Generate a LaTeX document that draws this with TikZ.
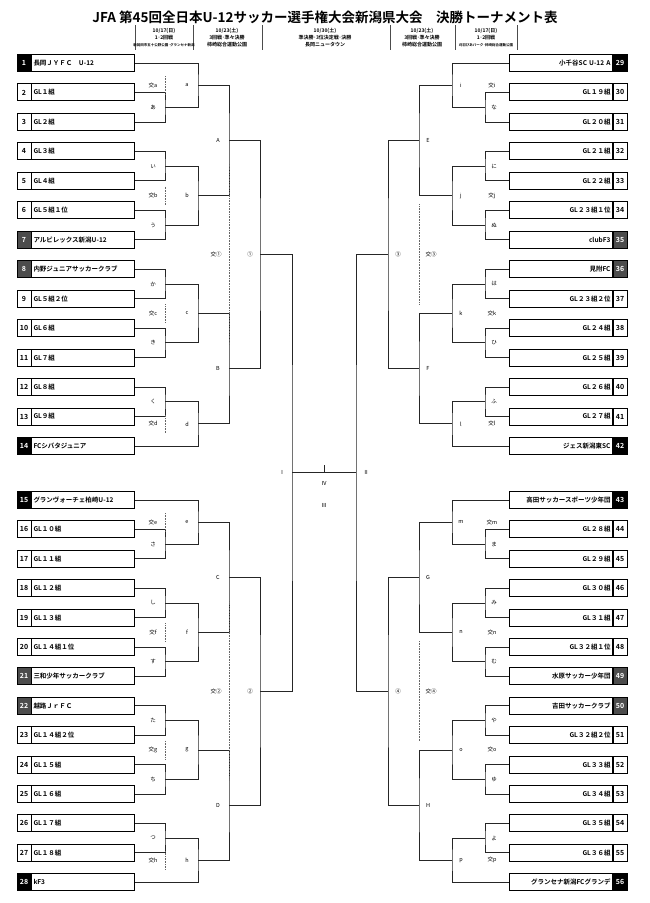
\documentclass[tikz,border=0pt]{standalone}
\usepackage{fontspec}
\setmainfont{Noto Sans CJK JP}[BoldFont={Noto Sans CJK JP Bold}]
\usetikzlibrary{calc}

\tikzset{
    bline/.style={line width=0.8pt, black!85},
    xline/.style={densely dotted, line width=0.6pt, black!60},
    namebox/.style={draw, line width=1pt, minimum width=103pt, minimum height=17pt, inner sep=2pt, font=\fontsize{6.5}{7}\selectfont\bfseries},
    numcell/.style={draw, line width=1pt, minimum width=14pt, minimum height=17pt, inner sep=0pt, font=\fontsize{7}{8}\selectfont\bfseries},
    rlabel/.style={font=\fontsize{5.5}{6}\selectfont, inner sep=0pt},
    headtxt/.style={font=\fontsize{5}{6}\selectfont\bfseries, align=center, inner sep=0pt}
}

% match: name, top, bottom, x of vertical, label, label shift
\newcommand\mt[6]{%
    \coordinate (#1tmp) at ($(#2)!.5!(#3)$);
    \coordinate (#1) at (#4,0 |- #1tmp);
    \draw[bline] (#2) -| (#1) |- (#3);
    \node[rlabel] at ($(#1)+(#6,0)$) {#5};}
% cross label with dotted line
\newcommand\xl[5]{%
    \node[rlabel] at ($(#1)+(#3,0)$) {#2};
    \draw[xline] ($(#1)+(#4,-#5)$) -- ($(#1)+(#4,#5)$);}

\begin{document}
\begin{tikzpicture}[x=1pt, y=-1pt]
    \useasboundingbox (0,0) rectangle (650,903);

    % Title and schedule
    \node[font=\fontsize{13.5}{14}\selectfont\bfseries] (title) at (325,17) {JFA 第45回全日本U-12サッカー選手権大会新潟県大会　決勝トーナメント表};
    \foreach \sx in {135,193,262,390,455,517}
        \draw[black!70, line width=0.6pt] (\sx,25) -- (\sx,50);
    \node[headtxt] (h1) at (164,38) {10/17(日)\\[1pt]1･2回戦\\[1pt]{\fontsize{3.5}{4}\selectfont 新発田市五十公野公園･グランセナ新潟}};
    \node[headtxt] (h2) at (227,38) {10/23(土)\\[1pt]3回戦･準々決勝\\[1pt]柿崎総合運動公園};
    \node[headtxt] (h3) at (325,38) {10/30(土)\\[1pt]準決勝･3位決定戦･決勝\\[1pt]長岡ニュータウン};
    \node[headtxt] (h4) at (422,38) {10/23(土)\\[1pt]3回戦･準々決勝\\[1pt]柿崎総合運動公園};
    \node[headtxt] (h5) at (486,38) {10/17(日)\\[1pt]1･2回戦\\[1pt]{\fontsize{3.5}{4}\selectfont 刈羽ぴあパーク･柿崎総合運動公園}};

    % Left teams
    \foreach \n/\nm/\f/\c in {
        1/長岡ＪＹＦＣ　U-12/black/white, 2/GL１組/white/black, 3/GL２組/white/black,
        4/GL３組/white/black, 5/GL４組/white/black, 6/GL５組１位/white/black,
        7/アルビレックス新潟U-12/black!70/white, 8/内野ジュニアサッカークラブ/black!70/white,
        9/GL５組２位/white/black, 10/GL６組/white/black, 11/GL７組/white/black,
        12/GL８組/white/black, 13/GL９組/white/black, 14/FCシバタジュニア/black/white,
        15/グランヴォーチェ柏崎U-12/black/white, 16/GL１０組/white/black, 17/GL１１組/white/black,
        18/GL１２組/white/black, 19/GL１３組/white/black, 20/GL１４組１位/white/black,
        21/三和少年サッカークラブ/black!70/white, 22/越路ＪｒＦＣ/black!70/white,
        23/GL１４組２位/white/black, 24/GL１５組/white/black, 25/GL１６組/white/black,
        26/GL１７組/white/black, 27/GL１８組/white/black, 28/kF3/black/white} {
        \pgfmathsetmacro\yy{\n<15 ? 63+(\n-1)*29.46 : 500+(\n-15)*29.4}
        \node[numcell, fill=\f, text=\c] (n\n) at (24,\yy) {\n};
        \node[namebox, anchor=west, text width=99pt, align=left] (t\n) at (31,\yy) {\nm};
    }

    % Right teams
    \foreach \n/\nm/\f/\c in {
        29/小千谷SC U-12 A/black/white, 30/GL１９組/white/black, 31/GL２０組/white/black,
        32/GL２１組/white/black, 33/GL２２組/white/black, 34/GL２３組１位/white/black,
        35/clubF3/black!70/white, 36/見附FC/black!70/white,
        37/GL２３組２位/white/black, 38/GL２４組/white/black, 39/GL２５組/white/black,
        40/GL２６組/white/black, 41/GL２７組/white/black, 42/ジェス新潟東SC/black/white,
        43/高田サッカースポーツ少年団/black/white, 44/GL２８組/white/black, 45/GL２９組/white/black,
        46/GL３０組/white/black, 47/GL３１組/white/black, 48/GL３２組１位/white/black,
        49/水原サッカー少年団/black!70/white, 50/吉田サッカークラブ/black!70/white,
        51/GL３２組２位/white/black, 52/GL３３組/white/black, 53/GL３４組/white/black,
        54/GL３５組/white/black, 55/GL３６組/white/black, 56/グランセナ新潟FCグランデ/black/white} {
        \pgfmathsetmacro\yy{\n<43 ? 63+(\n-29)*29.46 : 500+(\n-43)*29.4}
        \node[numcell, fill=\f, text=\c] (n\n) at (620,\yy) {\n};
        \node[namebox, anchor=east, text width=99pt, align=right] (t\n) at (613,\yy) {\nm};
    }

    % Left bracket, upper half
    \mt{pa}{t2}{t3}{165}{あ}{-12}
    \mt{pi}{t4}{t5}{165}{い}{-12}
    \mt{pu}{t6}{t7}{165}{う}{-12}
    \mt{ma}{t1}{pa}{198}{a}{-11}
    \mt{mb}{pi}{pu}{198}{b}{-11}
    \mt{mA}{ma}{mb}{229}{A}{-11}
    \mt{pka}{t8}{t9}{165}{か}{-12}
    \mt{pki}{t10}{t11}{165}{き}{-12}
    \mt{pku}{t12}{t13}{165}{く}{-12}
    \mt{mc}{pka}{pki}{198}{c}{-11}
    \mt{md}{pku}{t14}{198}{d}{-11}
    \mt{mB}{mc}{md}{229}{B}{-11}
    \mt{m1}{mA}{mB}{260}{①}{-10}
    \xl{ma}{交a}{-45}{-33}{9}
    \xl{mb}{交b}{-45}{-33}{9}
    \xl{mc}{交c}{-45}{-33}{9}
    \xl{md}{交d}{-45}{-33}{9}
    \xl{m1}{交①}{-44}{-31}{90}

    % Left bracket, lower half
    \mt{psa}{t16}{t17}{165}{さ}{-12}
    \mt{pshi}{t18}{t19}{165}{し}{-12}
    \mt{psu}{t20}{t21}{165}{す}{-12}
    \mt{me}{t15}{psa}{198}{e}{-11}
    \mt{mf}{pshi}{psu}{198}{f}{-11}
    \mt{mC}{me}{mf}{229}{C}{-11}
    \mt{pta}{t22}{t23}{165}{た}{-12}
    \mt{pchi}{t24}{t25}{165}{ち}{-12}
    \mt{ptsu}{t26}{t27}{165}{つ}{-12}
    \mt{mg}{pta}{pchi}{198}{g}{-11}
    \mt{mh}{ptsu}{t28}{198}{h}{-11}
    \mt{mD}{mg}{mh}{229}{D}{-11}
    \mt{m2}{mC}{mD}{260}{②}{-10}
    \xl{me}{交e}{-45}{-33}{9}
    \xl{mf}{交f}{-45}{-33}{9}
    \xl{mg}{交g}{-45}{-33}{9}
    \xl{mh}{交h}{-45}{-33}{9}
    \xl{m2}{交②}{-44}{-31}{90}

    % Right bracket, upper half
    \mt{pna}{t30}{t31}{485}{な}{9}
    \mt{pni}{t32}{t33}{485}{に}{9}
    \mt{pnu}{t34}{t35}{485}{ぬ}{9}
    \mt{mi}{t29}{pna}{452}{i}{9}
    \mt{mj}{pni}{pnu}{452}{j}{9}
    \mt{mE}{mi}{mj}{419}{E}{9}
    \mt{pha}{t36}{t37}{485}{は}{9}
    \mt{phi}{t38}{t39}{485}{ひ}{9}
    \mt{pfu}{t40}{t41}{485}{ふ}{9}
    \mt{mk}{pha}{phi}{452}{k}{9}
    \mt{ml}{pfu}{t42}{452}{l}{9}
    \mt{mF}{mk}{ml}{419}{F}{9}
    \mt{m3}{mE}{mF}{388}{③}{10}
    \node[rlabel] at ($(mi)+(40,0)$) {交i};
    \node[rlabel] at ($(mj)+(40,0)$) {交j};
    \node[rlabel] at ($(mk)+(40,0)$) {交k};
    \node[rlabel] at ($(ml)+(40,0)$) {交l};
    \xl{m3}{交③}{43}{31}{50}

    % Right bracket, lower half
    \mt{pma}{t44}{t45}{485}{ま}{9}
    \mt{pmi}{t46}{t47}{485}{み}{9}
    \mt{pmu}{t48}{t49}{485}{む}{9}
    \mt{mm}{t43}{pma}{452}{m}{9}
    \mt{mn}{pmi}{pmu}{452}{n}{9}
    \mt{mG}{mm}{mn}{419}{G}{9}
    \mt{pya}{t50}{t51}{485}{や}{9}
    \mt{pyu}{t52}{t53}{485}{ゆ}{9}
    \mt{pyo}{t54}{t55}{485}{よ}{9}
    \mt{mo}{pya}{pyu}{452}{o}{9}
    \mt{mp}{pyo}{t56}{452}{p}{9}
    \mt{mH}{mo}{mp}{419}{H}{9}
    \mt{m4}{mG}{mH}{388}{④}{10}
    \node[rlabel] at ($(mm)+(40,0)$) {交m};
    \node[rlabel] at ($(mn)+(40,0)$) {交n};
    \node[rlabel] at ($(mo)+(40,0)$) {交o};
    \node[rlabel] at ($(mp)+(40,0)$) {交p};
    \xl{m4}{交④}{43}{31}{50}

    % Final
    \mt{fI}{m1}{m2}{292}{Ⅰ}{-10}
    \mt{fII}{m3}{m4}{356}{Ⅱ}{10}
    \draw[bline] (fI) -- (fII);
    \coordinate (fmid) at ($(fI)!.5!(fII)$);
    \draw[bline] (fmid) -- ++(0,-8);
    \node[rlabel] (lIV) at ($(fmid)+(0,11)$) {Ⅳ};
    \node[rlabel] (lIII) at ($(fmid)+(0,33)$) {Ⅲ};
\end{tikzpicture}
\end{document}
